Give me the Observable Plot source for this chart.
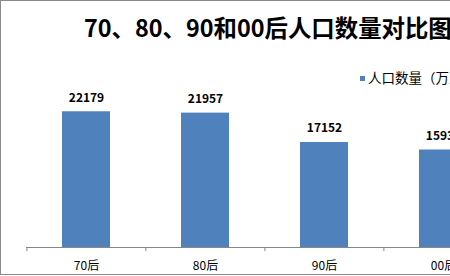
<!DOCTYPE html>
<html><head><meta charset="utf-8">
<script src="https://cdn.jsdelivr.net/npm/d3@7"></script>
<script src="https://cdn.jsdelivr.net/npm/@observablehq/plot@0.6"></script>
<style>
html,body{margin:0;padding:0;background:#fff;overflow:hidden;width:450px;height:276px;}
#wrap{position:absolute;left:0;top:0;width:538px;height:273px;border:1px solid #8a8a8a;background:#fff;font-family:"Noto Sans CJK SC","Noto Sans",sans-serif;}
#title{position:absolute;left:83px;top:9px;font-size:23.4px;font-weight:bold;white-space:nowrap;color:#000;line-height:34px;}
#legend{position:absolute;left:359px;top:67px;font-size:13.5px;white-space:nowrap;color:#000;line-height:18px;}
#legend span.sw{display:inline-block;width:5px;height:5px;background:#4F81BD;margin-right:3px;vertical-align:middle;position:relative;top:-1px;}
#chart{position:absolute;left:0;top:0;}
</style></head>
<body>
<div id="wrap">
  <div id="chart"></div>
  <div id="title"></div>
  <div id="legend"><span class="sw"></span><span id="legtext"></span></div>
</div>
<script>
const titleText = "70、80、90和00后人口数量对比图";
const seriesName = "人口数量（万人）";
const categories = ["70后", "80后", "90后", "00后"];
const values = [22179, 21957, 17152, 15934];

document.getElementById("title").textContent = titleText;
document.getElementById("legtext").textContent = seriesName;

const data = categories.map((c, i) => ({cat: c, value: values[i]}));
const W = 538, H = 273, mL = 25, mR = 36;
const step = (W - mL - mR) / categories.length;

const plot = Plot.plot({
  width: W,
  height: H,
  marginLeft: mL,
  marginRight: mR,
  marginTop: 93,
  marginBottom: 27,
  style: {fontFamily: '"Noto Sans CJK SC","Noto Sans",sans-serif', fontSize: "12px", color: "#000", background: "transparent"},
  x: {domain: categories, paddingInner: 0.6, paddingOuter: 0.3, axis: null},
  y: {domain: [0, 25000], axis: null},
  marks: [
    Plot.barY(data, {x: "cat", y: "value", fill: "#4F81BD"}),
    Plot.ruleY([0], {stroke: "#868686", strokeWidth: 1}),
    Plot.ruleX(categories, {x: d => d, dx: -step / 2, y1: 0, y2: 0, insetBottom: -4, stroke: "#868686", strokeWidth: 1}),
    Plot.text(data, {x: "cat", y: "value", text: d => String(d.value), dy: -14, fontWeight: "bold", fontSize: 12, fill: "#000"}),
    Plot.axisX({tickSize: 0, tickPadding: 14, fontSize: 12, color: "#000", label: null})
  ]
});
document.getElementById("chart").appendChild(plot);
</script>
</body></html>
